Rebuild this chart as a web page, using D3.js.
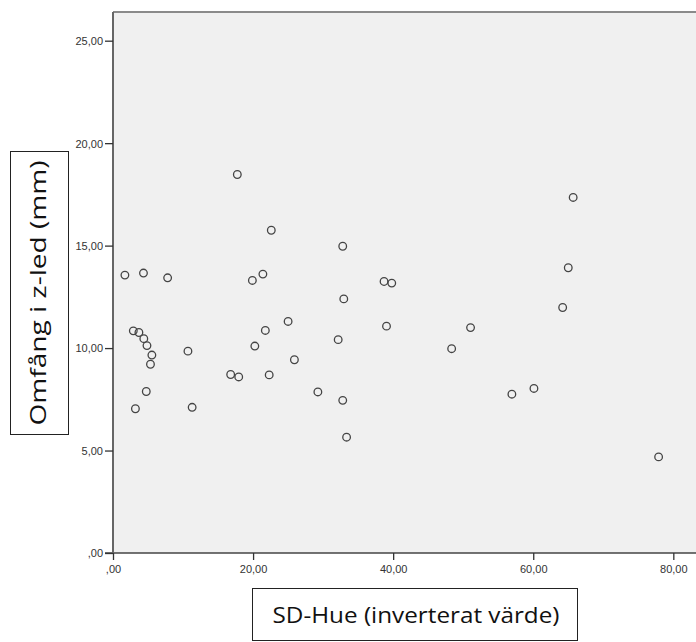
<!DOCTYPE html>
<html>
<head>
<meta charset="utf-8">
<script src="https://cdn.jsdelivr.net/npm/d3@7"></script>
<style>
  body { margin: 0; background: #fff; }
  svg { display: block; }
</style>
</head>
<body>
<script>
// values
const sdHue = [1.7, 4.35, 7.8, 22.6, 21.4, 19.9, 2.9, 3.7, 4.4, 4.85, 5.55, 5.35,
  10.7, 4.75, 3.2, 11.3, 25.0, 21.75, 20.25, 25.9, 16.8, 17.95, 22.3, 32.8, 38.7,
  39.8, 32.95, 39.05, 51.05, 32.15, 48.35, 29.25, 32.8, 33.35, 65.7, 65.0, 64.2,
  56.95, 60.1, 77.9, 17.75];
const omfang = [13.56, 13.66, 13.43, 15.75, 13.61, 13.3, 10.84, 10.76, 10.46, 10.12,
  9.66, 9.21, 9.85, 7.88, 7.04, 7.11, 11.3, 10.86, 10.1, 9.43, 8.71, 8.59, 8.69,
  14.97, 13.25, 13.17, 12.4, 11.07, 11.0, 10.41, 9.97, 7.86, 7.45, 5.65, 17.35,
  13.92, 11.98, 7.75, 8.03, 4.69, 18.47];
const xTicks = [0, 20, 40, 60, 80];
const yTicks = [0, 5, 10, 15, 20, 25];
const xTitle = "SD-Hue (inverterat värde)";
const yTitle = "Omfång i z-led (mm)";

function main() {
    const width = 696, height = 642;
    const left = 113, top = 12, bottom = 553;

    const svg = d3.select("body").append("svg")
        .attr("width", width)
        .attr("height", height);

    const xScale = d3.scaleLinear().domain([0, 84]).range([left, left + 84 * 7.004]);
    const yScale = d3.scaleLinear().domain([0, 26.4]).range([bottom, top]);

    const fmt = v => v === 0 ? ",00" : d3.format(".2f")(v).replace(".", ",");

    // plot background
    svg.append("rect")
        .attr("x", left).attr("y", top)
        .attr("width", width - left + 5).attr("height", bottom - top)
        .attr("fill", "#f0f0f0");

    svg.append("line")
        .attr("x1", left).attr("x2", width + 5)
        .attr("y1", top).attr("y2", top)
        .attr("stroke", "#8a8a8a").attr("stroke-width", 2);

    // axes
    const xAxis = svg.append("g")
        .attr("transform", "translate(0," + bottom + ")")
        .call(d3.axisBottom(xScale).tickValues(xTicks).tickFormat(fmt).tickSize(7).tickSizeOuter(0));
    const yAxis = svg.append("g")
        .attr("transform", "translate(" + left + ",0)")
        .call(d3.axisLeft(yScale).tickValues(yTicks).tickFormat(fmt).tickSize(8).tickSizeOuter(0));

    xAxis.select(".domain").attr("d", "M" + (left - 8) + ",0H" + (width + 5)).attr("stroke", "#444").attr("stroke-width", 1.3);
    yAxis.select(".domain").attr("d", "M0," + bottom + "V" + top).attr("stroke", "#666").attr("stroke-width", 2);
    svg.selectAll(".tick line").attr("stroke", "#333").attr("stroke-width", 1.3);
    svg.selectAll(".tick text")
        .attr("fill", "#333")
        .attr("font-family", "Liberation Sans, Arial, sans-serif")
        .attr("font-size", 11);
    xAxis.selectAll(".tick text").attr("dy", "0.9em");
    yAxis.selectAll(".tick text").attr("x", -10).attr("dy", "0.35em");

    // points
    svg.append("g").selectAll("circle")
        .data(sdHue.map((d, i) => ({ x: d, y: omfang[i] })))
        .join("circle")
        .attr("cx", d => xScale(d.x))
        .attr("cy", d => yScale(d.y))
        .attr("r", 3.8)
        .attr("fill", "none")
        .attr("stroke", "#444")
        .attr("stroke-width", 1.3);

    // axis titles in boxes
    svg.append("rect")
        .attr("x", 252.5).attr("y", 588.5).attr("width", 325).attr("height", 52)
        .attr("fill", "#fff").attr("stroke", "#222").attr("stroke-width", 1);
    svg.append("text")
        .attr("x", 416).attr("y", 623)
        .attr("text-anchor", "middle")
        .attr("font-family", "Open Sans, sans-serif")
        .attr("font-size", 22)
        .attr("textLength", 287)
        .attr("lengthAdjust", "spacingAndGlyphs")
        .attr("fill", "#111")
        .text(xTitle);

    svg.append("rect")
        .attr("x", 10.5).attr("y", 151.5).attr("width", 58).attr("height", 283)
        .attr("fill", "#fff").attr("stroke", "#222").attr("stroke-width", 1);
    svg.append("text")
        .attr("transform", "translate(46,293) rotate(-90)")
        .attr("text-anchor", "middle")
        .attr("font-family", "Open Sans, sans-serif")
        .attr("font-size", 22)
        .attr("textLength", 265)
        .attr("lengthAdjust", "spacingAndGlyphs")
        .attr("fill", "#111")
        .text(yTitle);
}
main();
</script>
</body>
</html>
